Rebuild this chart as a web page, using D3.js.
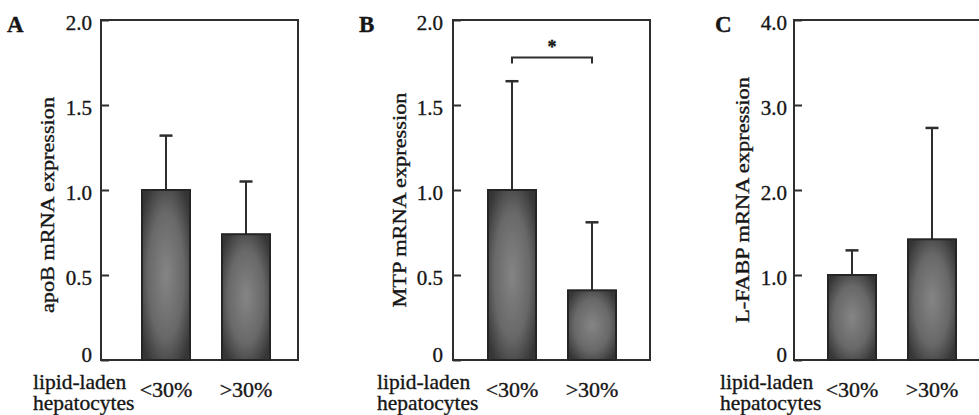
<!DOCTYPE html>
<html>
<head>
<meta charset="utf-8">
<script src="https://cdn.jsdelivr.net/npm/d3@7"></script>
<style>
  html, body { margin: 0; padding: 0; background: #fff; }
  svg { display: block; }
  text { font-family: "Liberation Serif", "Times New Roman", serif; fill: #161616; stroke: #161616; stroke-width: 0.35px; }
</style>
</head>
<body>
<svg id="chart" width="979" height="415"></svg>
<script>
// ---- data ----
const categories = ["<30%", ">30%"];
const panelLetters = ["A", "B", "C"];
const yLabels = ["apoB mRNA expression", "MTP mRNA expression", "L-FABP mRNA expression"];
const yMax = [2.0, 2.0, 4.0];
const yTicks = [[0, 0.5, 1.0, 1.5, 2.0], [0, 0.5, 1.0, 1.5, 2.0], [0, 1.0, 2.0, 3.0, 4.0]];
const yTickLabels = [["0", "0.5", "1.0", "1.5", "2.0"], ["0", "0.5", "1.0", "1.5", "2.0"], ["0", "1.0", "2.0", "3.0", "4.0"]];
const apoB = [1.0, 0.74];
const apoB_err = [1.32, 1.05];
const MTP = [1.0, 0.41];
const MTP_err = [1.64, 0.81];
const LFABP = [1.0, 1.42];
const LFABP_err = [1.29, 2.73];
const significance = [null, {from: "<30%", to: ">30%", y: 1.78, label: "*"}, null];
const groupLabelLines = ["lipid-laden", "hepatocytes"];

const values = [apoB, MTP, LFABP];
const errTops = [apoB_err, MTP_err, LFABP_err];

// ---- layout ----
const svg = d3.select("#chart");
const defs = svg.append("defs");
const grad = defs.append("radialGradient").attr("id", "barGrad")
  .attr("cx", "50%").attr("cy", "50%").attr("r", "62%");
grad.append("stop").attr("offset", "0%").attr("stop-color", "#858585");
grad.append("stop").attr("offset", "60%").attr("stop-color", "#686868");
grad.append("stop").attr("offset", "100%").attr("stop-color", "#363636");

const plotTop = 20, plotBottom = 360, plotW = 197;
const panelLeft = [101, 453, 794];
const barOffset = [41, 35, 34];
const groupLabelX = [33, 377, 720];
const letterX = [7, 359, 715];
const tickGap = [9, 10, 7];
const yLabelOff = [47, 47, 45.5];
const yLabelLen = [216, 215, 246];
const yLabelCenter = [205, 200, 200];
const lineColor = "#2e2e2e";

panelLetters.forEach((letter, i) => {
  const x0 = panelLeft[i];
  const g = svg.append("g");
  const y = d3.scaleLinear().domain([0, yMax[i]]).range([plotBottom, plotTop]);
  const x = d3.scaleBand().domain(categories)
    .range([x0 + barOffset[i], x0 + barOffset[i] + 128])
    .paddingInner(0.4).paddingOuter(0);

  // frame
  g.append("rect").attr("x", x0).attr("y", plotTop).attr("width", plotW).attr("height", plotBottom - plotTop)
    .attr("fill", "none").attr("stroke", lineColor).attr("stroke-width", 2);

  // y axis (ticks inward)
  const axis = d3.axisRight(y).tickValues(yTicks[i]).tickSize(8).tickFormat(() => "");
  const ag = g.append("g").attr("transform", `translate(${x0},0)`).call(axis);
  ag.select(".domain").remove();
  ag.selectAll(".tick line").attr("stroke", lineColor).attr("stroke-width", 2);
  ag.selectAll(".tick text").remove();
  // tick labels
  g.selectAll(".tl").data(yTicks[i]).join("text")
    .attr("x", x0 - tickGap[i]).attr("y", d => y(d) + (d === 0 ? 2 : 10))
    .attr("text-anchor", "end").attr("font-size", 21)
    .text((d, k) => yTickLabels[i][k]);

  // error bars
  const half = 6.5;
  categories.forEach((c, k) => {
    const cx = x(c) + x.bandwidth() / 2;
    g.append("line").attr("x1", cx).attr("x2", cx)
      .attr("y1", y(values[i][k])).attr("y2", y(errTops[i][k]))
      .attr("stroke", lineColor).attr("stroke-width", 2);
    g.append("line").attr("x1", cx - half).attr("x2", cx + half)
      .attr("y1", y(errTops[i][k])).attr("y2", y(errTops[i][k]))
      .attr("stroke", lineColor).attr("stroke-width", 2.5);
  });

  // bars
  g.selectAll(".bar").data(categories).join("rect")
    .attr("x", c => x(c)).attr("width", x.bandwidth())
    .attr("y", (c, k) => y(values[i][k]))
    .attr("height", (c, k) => plotBottom - y(values[i][k]))
    .attr("fill", "url(#barGrad)").attr("stroke", "#252525").attr("stroke-width", 2);

  // x category labels
  g.selectAll(".xl").data(categories).join("text")
    .attr("x", c => x(c) + x.bandwidth() / 2).attr("y", 397)
    .attr("text-anchor", "middle").attr("font-size", 22)
    .text(c => c);

  // group label (one text, two lines)
  const gl = g.append("text").attr("x", groupLabelX[i]).attr("y", 389).attr("font-size", 21.5);
  groupLabelLines.forEach((t, k) => {
    gl.append("tspan").attr("x", groupLabelX[i]).attr("dy", k === 0 ? 0 : 21).text(t);
  });

  // y label
  g.append("text")
    .attr("transform", `translate(${x0 - yLabelOff[i]},${yLabelCenter[i]}) rotate(-90)`)
    .attr("text-anchor", "middle").attr("font-size", 18)
    .attr("textLength", yLabelLen[i]).attr("lengthAdjust", "spacingAndGlyphs")
    .text(yLabels[i]);

  // panel letter
  g.append("text").attr("x", letterX[i]).attr("y", 32)
    .attr("font-size", 23).attr("font-weight", "bold").text(letter);

  // significance
  const s = significance[i];
  if (s) {
    const xa = x(s.from) + x.bandwidth() / 2;
    const xb = x(s.to) + x.bandwidth() / 2;
    const ys = y(s.y);
    g.append("path")
      .attr("d", `M${xa},${ys + 6}V${ys}H${xb}V${ys + 6}`)
      .attr("fill", "none").attr("stroke", lineColor).attr("stroke-width", 2);
    g.append("text").attr("x", (xa + xb) / 2).attr("y", ys - 4)
      .attr("text-anchor", "middle").attr("font-size", 18).attr("font-weight", "bold")
      .text(s.label);
  }
});
</script>
</body>
</html>
